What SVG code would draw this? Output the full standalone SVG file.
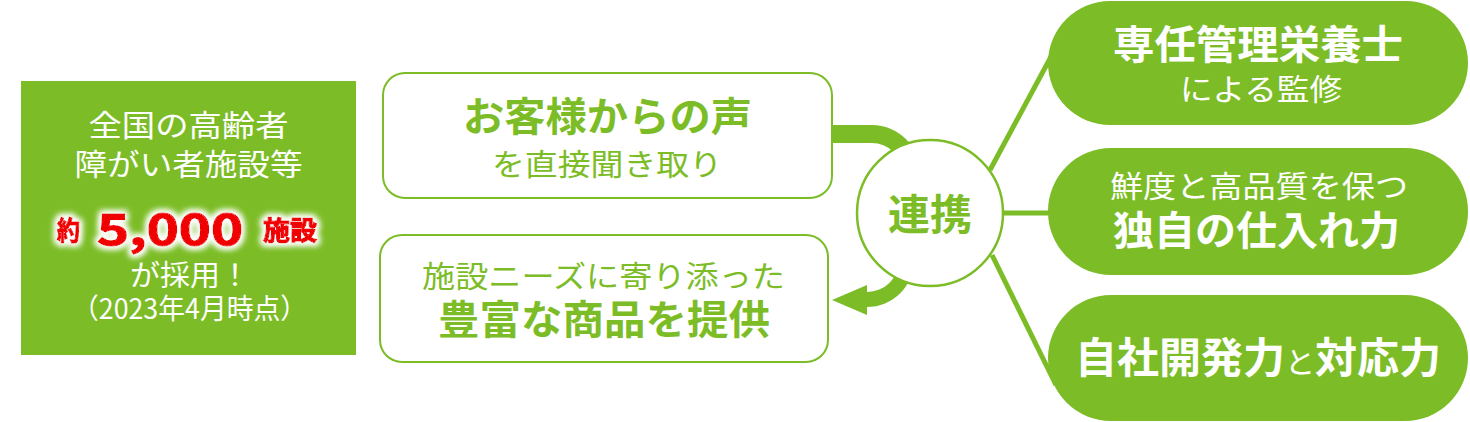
<svg xmlns="http://www.w3.org/2000/svg" width="1470" height="422" viewBox="0 0 1470 422">
<defs>
<style>
.g{fill:#7CBD27}
.ol{fill:#fff;stroke:#7CBD27;stroke-width:2}
.t{font-family:"Noto Sans CJK JP","Noto Sans",sans-serif;text-anchor:middle}
.w{fill:#fff}
.gt{fill:#7CBD27}
.b{font-weight:bold}
.red{fill:#F00000;stroke:#F00000;stroke-width:1.2;font-weight:bold}
.ln{stroke:#7CBD27;stroke-width:5;fill:none}
</style>
<filter id="glow" x="-20%" y="-40%" width="140%" height="180%">
<feMorphology in="SourceAlpha" operator="dilate" radius="2" result="d"/>
<feGaussianBlur in="d" stdDeviation="3" result="bl"/>
<feFlood flood-color="#ffffff"/>
<feComposite in2="bl" operator="in" result="gl"/>
<feMerge><feMergeNode in="gl"/><feMergeNode in="gl"/><feMergeNode in="SourceGraphic"/></feMerge>
</filter>
</defs>
<rect width="1470" height="422" fill="#fff"/>

<g id="connectors">
<path class="g" d="M832,125 H872 A48 48 0 0 1 920 173 L902 173 A30 30 0 0 0 872 143 H832 Z"/>
<path class="g" d="M867,285 L832,300 L867,315 L867,307 A47 47 0 0 0 914 260 L899 260 A32 32 0 0 1 867 292 Z"/>
<line class="ln" x1="990" y1="170" x2="1060" y2="40"/>
<line class="ln" x1="1000" y1="213" x2="1055" y2="213"/>
<line class="ln" x1="992" y1="255" x2="1056" y2="385"/>
</g>

<g id="node-left">
<rect class="g" x="21" y="81" width="335" height="274"/>
<text class="t w" x="188.5" y="136" font-size="30" textLength="200" lengthAdjust="spacingAndGlyphs">全国の高齢者</text>
<text class="t w" x="188.5" y="175" font-size="30" textLength="228" lengthAdjust="spacingAndGlyphs">障がい者施設等</text>
<g filter="url(#glow)">
<text class="t red" x="68.5" y="240" font-size="26" textLength="23" lengthAdjust="spacingAndGlyphs">約</text>
<text class="t red" x="170" y="245" font-size="43" font-family="'Liberation Sans',Arial,sans-serif" textLength="146" lengthAdjust="spacingAndGlyphs">5,000</text>
<text class="t red" x="290" y="240" font-size="26" textLength="54" lengthAdjust="spacingAndGlyphs">施設</text>
</g>
<text class="t w" x="190" y="286" font-size="29" textLength="120" lengthAdjust="spacingAndGlyphs">が採用！</text>
<text class="t w" x="189.5" y="319" font-size="28" textLength="235" lengthAdjust="spacingAndGlyphs">（2023年4月時点）</text>
</g>

<g id="node-voice">
<rect class="ol" x="383" y="73" width="449" height="125" rx="22"/>
<text class="t gt b" x="607.5" y="131" font-size="40" textLength="289" lengthAdjust="spacingAndGlyphs">お客様からの声</text>
<text class="t gt" x="607" y="175" font-size="30" textLength="230" lengthAdjust="spacingAndGlyphs">を直接聞き取り</text>
</g>

<g id="node-products">
<rect class="ol" x="380" y="235" width="448" height="127" rx="22"/>
<text class="t gt" x="603.5" y="287" font-size="30" textLength="363" lengthAdjust="spacingAndGlyphs">施設ニーズに寄り添った</text>
<text class="t gt b" x="604" y="334" font-size="40" textLength="332" lengthAdjust="spacingAndGlyphs">豊富な商品を提供</text>
</g>

<g id="node-center">
<circle cx="930" cy="213" r="73" fill="#fff" stroke="#7CBD27" stroke-width="2.5"/>
<text class="t gt b" x="930" y="230" font-size="42" textLength="84" lengthAdjust="spacingAndGlyphs">連携</text>
</g>

<g id="node-dietitian">
<rect class="g" x="1048" y="1" width="420" height="124" rx="62"/>
<text class="t w b" x="1258" y="59" font-size="40" textLength="290" lengthAdjust="spacingAndGlyphs">専任管理栄養士</text>
<text class="t w" x="1261" y="100" font-size="30" textLength="162" lengthAdjust="spacingAndGlyphs">による監修</text>
</g>

<g id="node-sourcing">
<rect class="g" x="1048" y="148" width="420" height="127" rx="63"/>
<text class="t w" x="1259" y="197" font-size="30" textLength="298" lengthAdjust="spacingAndGlyphs">鮮度と高品質を保つ</text>
<text class="t w b" x="1256.5" y="245" font-size="40" textLength="287" lengthAdjust="spacingAndGlyphs">独自の仕入れ力</text>
</g>

<g id="node-development">
<rect class="g" x="1048" y="295" width="420" height="126" rx="63"/>
<text class="t w" x="1258" y="373"><tspan class="b" font-size="42">自社開発力</tspan><tspan font-size="30">と</tspan><tspan class="b" font-size="42">対応力</tspan></text>
</g>
</svg>
